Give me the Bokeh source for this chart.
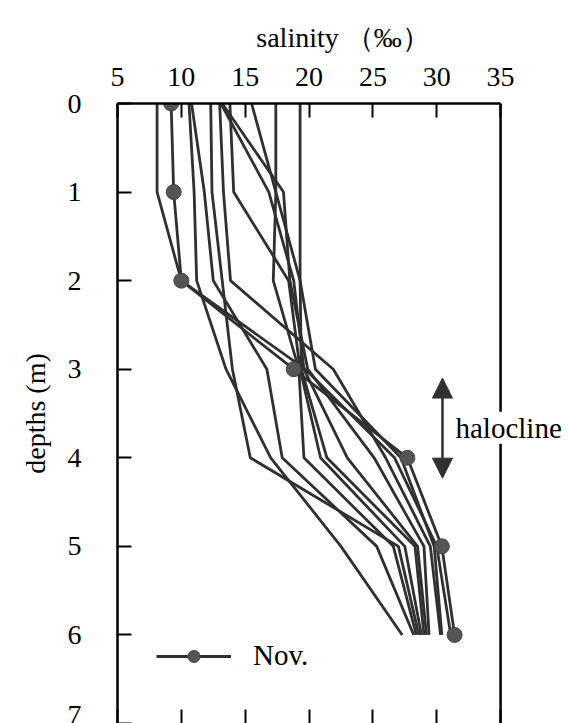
from math import pi
from bokeh.plotting import figure
from bokeh.models import (Range1d, LinearAxis, FixedTicker, Label, Arrow, Span,
                          NormalHead, Legend, LegendItem, Title)
from bokeh.embed import file_html
from bokeh.resources import INLINE

# ---- data: salinity (permil) at each depth (m) ----
depths = [0, 1, 2, 3, 4, 5, 6]
nov = [9.2, 9.4, 10.0, 18.8, 27.7, 30.4, 31.4]
p01 = [8.1, 8.1, 10.0, 19.7, 26.7, 30.0, 31.1]
p02 = [10.6, 11.0, 11.2, 13.5, 17.0, 22.5, 27.3]
p03 = [10.8, 11.8, 12.5, 16.7, 17.9, 25.3, 28.2]
p04 = [12.3, 12.4, 13.2, 14.0, 15.4, 27.0, 28.6]
p05 = [13.0, 13.3, 13.85, 21.9, 26.0, 29.5, 30.3]
p06 = [13.8, 14.1, 18.4, 19.3, 20.9, 27.5, 28.8]
p07 = [13.1, 16.85, 18.8, 19.6, 23.0, 28.5, 29.2]
p08 = [13.2, 18.0, 18.5, 19.9, 25.1, 29.0, 29.4]
p09 = [15.5, 17.4, 19.3, 20.5, 27.2, 29.8, 30.4]
p10 = [17.4, 17.4, 17.2, 19.2, 19.6, 26.6, 28.4]
p11 = [19.3, 19.3, 19.3, 19.4, 21.4, 28.3, 29.0]
other_profiles = [p01, p02, p03, p04, p05, p06, p07, p08, p09, p10, p11]

x_ticks = [5, 10, 15, 20, 25, 30, 35]
y_ticks = [0, 1, 2, 3, 4, 5, 6, 7]
x_min, x_max = 5, 35

FONT = "Liberation Serif"
LINE = "#303030"

p = figure(width=568, height=723, output_backend="svg", toolbar_location=None,
           x_range=Range1d(5, 40.32), y_range=Range1d(7, 0),
           x_axis_location="above",
           min_border_left=117, min_border_right=0,
           min_border_top=103, min_border_bottom=0)
p.background_fill_color = "white"
p.border_fill_color = "white"
p.outline_line_color = None
p.xgrid.visible = False
p.ygrid.visible = False

p.title.text = "salinity （‰）"
p.title.text_font = FONT
p.title.text_font_size = "28px"
p.title.text_font_style = "normal"
p.title.text_color = "black"
p.title.align = "center"
p.title.offset = -18
p.title.standoff = 24

bottom = LinearAxis()
p.add_layout(bottom, "below")

for ax in p.xaxis:
    ax.ticker = FixedTicker(ticks=x_ticks)
    ax.bounds = (x_min, x_max)
for ax in p.axis:
    ax.axis_line_color = "black"
    ax.axis_line_width = 2.5
    ax.major_tick_in = 14
    ax.major_tick_out = 0
    ax.major_tick_line_width = 2
    ax.major_tick_line_color = "black"
    ax.minor_tick_line_color = None
    ax.major_label_text_font = FONT
    ax.major_label_text_font_size = "28px"
    ax.major_label_text_color = "black"

p.xaxis[0].major_label_standoff = 18
bottom.axis_line_color = None
bottom.major_label_text_font_size = "0px"
bottom.major_label_standoff = 0
bottom.major_label_text_color = None

p.yaxis.ticker = FixedTicker(ticks=y_ticks)
p.yaxis.major_label_standoff = 36
p.yaxis.major_label_text_baseline = "alphabetic"

p.add_layout(Title(text="depths (m)", text_font=FONT, text_font_size="28px",
                   text_font_style="normal", text_color="black",
                   align="center", offset=56, standoff=28), "left")

p.add_layout(Span(location=x_max, dimension="height", line_color="black",
                  line_width=2.5))

for prof in other_profiles:
    p.line(x=prof, y=depths, line_color=LINE, line_width=2.8)

nov_line = p.line(x=nov, y=depths, line_color=LINE, line_width=2.8)
nov_pts = p.scatter(x=nov, y=depths, size=15, fill_color="#555555",
                    line_color="#444444", line_width=1)

legend = Legend(items=[LegendItem(label="Nov.", renderers=[nov_line, nov_pts])],
                location=(39, 51), padding=0, margin=0, spacing=0,
                glyph_width=75, glyph_height=30, label_height=30,
                label_standoff=22, border_line_color=None,
                background_fill_alpha=0,
                label_text_font=FONT, label_text_font_size="29px",
                label_text_color="black")
p.add_layout(legend, "center")

p.add_layout(Arrow(x_start=30.45, y_start=4.23, x_end=30.45, y_end=3.1,
                   line_color=LINE, line_width=2.5,
                   start=NormalHead(size=20, fill_color=LINE, line_color=LINE),
                   end=NormalHead(size=20, fill_color=LINE, line_color=LINE)))
p.add_layout(Label(x=31.47, y=3.66, text="halocline", text_font=FONT,
                   text_font_size="29px", text_baseline="middle",
                   text_color="black", background_fill_color="white"))

open("out.html", "w").write(file_html(p, INLINE))
